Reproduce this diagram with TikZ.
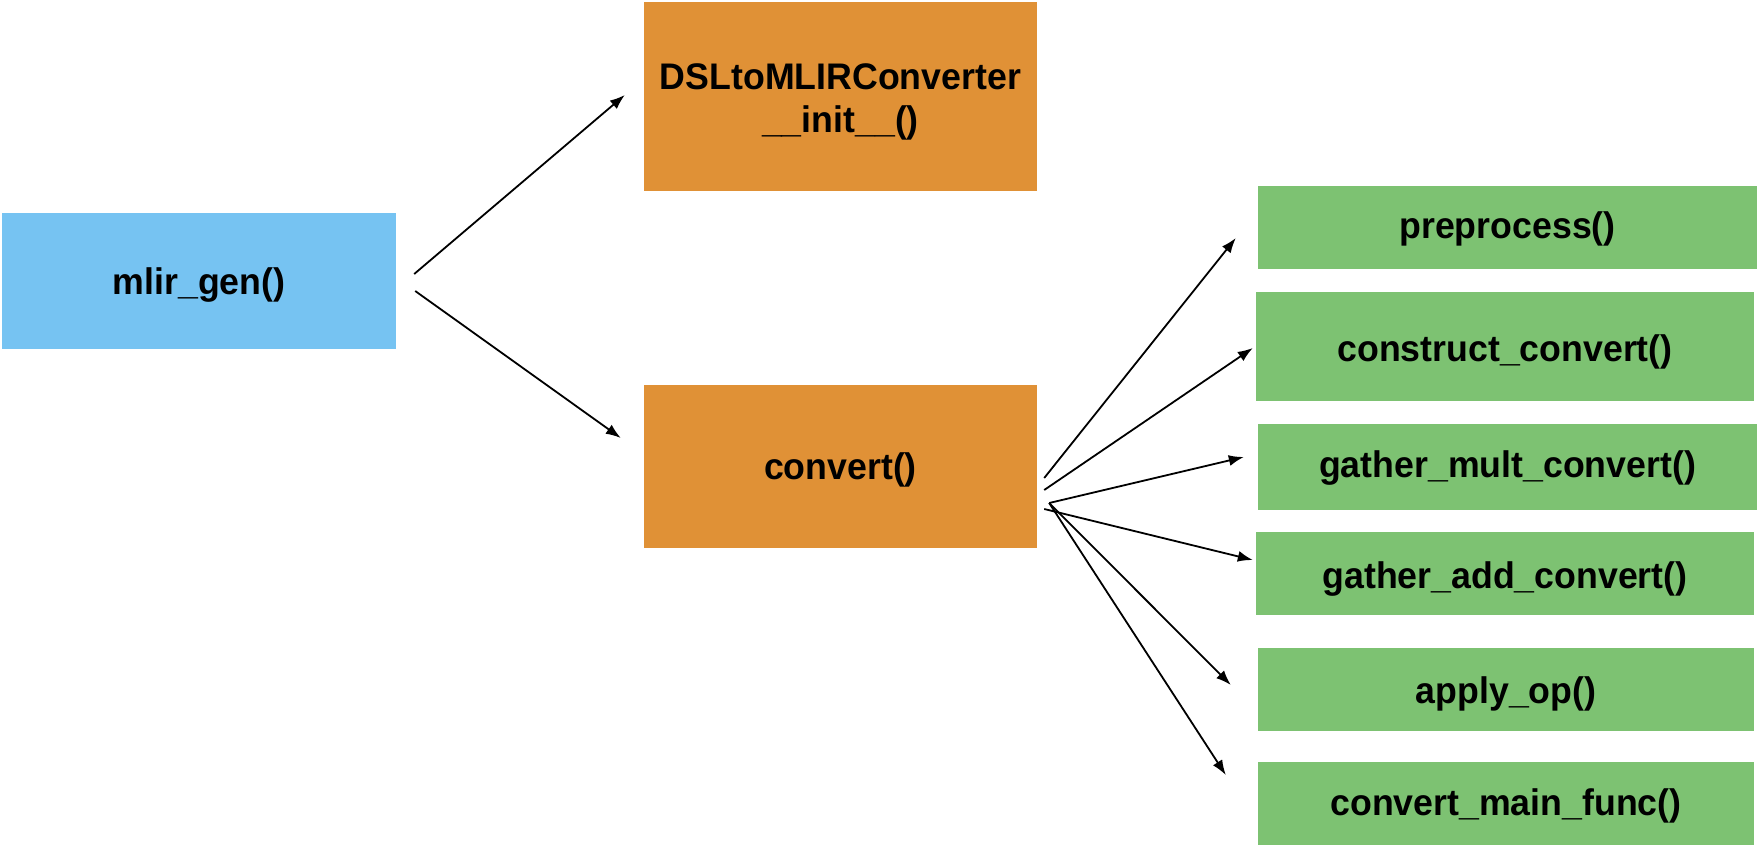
\documentclass[tikz,border=0pt]{standalone}
\usepackage{fontspec}
\setmainfont[FakeStretch=0.965]{Liberation Sans}
\usetikzlibrary{arrows.meta}
\definecolor{cblue}{HTML}{76C3F2}
\definecolor{corange}{HTML}{E09136}
\definecolor{cgreen}{HTML}{7DC272}
\tikzset{
  fbox/.style={rectangle,draw=none,inner sep=0pt,align=center,
    font=\fontsize{37}{43}\selectfont\bfseries},
  bl/.style 2 args={text height=#1pt,text depth=#2pt},
  bluebox/.style={fbox,fill=cblue},
  orangebox/.style={fbox,fill=corange,minimum width=393pt},
  greenbox/.style={fbox,fill=cgreen},
  conn/.style={line width=1.8pt,-{Latex[length=15pt,width=11pt]}}
}
\begin{document}
\begin{tikzpicture}[x=1pt,y=-1pt]
\useasboundingbox[fill=white] (0,0) rectangle (1760,848);
\node[bluebox,bl={30}{3},minimum width=394pt,minimum height=136pt] (mlir) at (199,281) {mlir\_gen()};
\node[orangebox,bl={75}{4},minimum height=189pt] (dsl) at (840.5,96.5) {DSLtoMLIRConverter\\\_\_init\_\_()};
\node[orangebox,bl={30}{4},minimum height=163pt] (conv) at (840.5,466.5) {convert()};
\node[greenbox,bl={25}{4},minimum width=499pt,minimum height=83pt] (pre) at (1507.5,227.5) {preprocess()};
\node[greenbox,bl={31}{2},minimum width=498pt,minimum height=109pt] (cons) at (1505,346.5) {construct\_convert()};
\node[greenbox,bl={25}{4},minimum width=499pt,minimum height=86pt] (mult) at (1507.5,467) {gather\_mult\_convert()};
\node[greenbox,bl={31}{2},minimum width=498pt,minimum height=83pt] (add) at (1505,573.5) {gather\_add\_convert()};
\node[greenbox,bl={30}{3},minimum width=496pt,minimum height=83pt] (apply) at (1506,689.5) {apply\_op()};
\node[greenbox,bl={27}{4},minimum width=496pt,minimum height=83pt] (mainf) at (1506,803.5) {convert\_main\_func()};
% connector ends
\coordinate (m1) at ([shift={(18,-7)}]mlir.east);
\coordinate (m2) at ([shift={(19,10)}]mlir.east);
\coordinate (d1) at ([shift={(-19,-1.5)}]dsl.west);
\coordinate (c1) at ([shift={(-23,-28.5)}]conv.west);
\coordinate (s3) at ([shift={(7,11.5)}]conv.east);
\coordinate (s4) at ([shift={(7,23.5)}]conv.east);
\coordinate (s5) at ([shift={(12,36.5)}]conv.east);
\coordinate (s6) at ([shift={(7,42.5)}]conv.east);
\coordinate (e3) at ([shift={(-22,10.5)}]pre.west);
\coordinate (e4) at ([shift={(-3,1.5)}]cons.west);
\coordinate (e5) at ([shift={(-14,-10)}]mult.west);
\coordinate (e6) at ([shift={(-3,-13.5)}]add.west);
\coordinate (e7) at ([shift={(-27,-4.5)}]apply.west);
\coordinate (e8) at ([shift={(-32,-28.5)}]mainf.west);
\draw[conn] (m1) -- (d1);
\draw[conn] (m2) -- (c1);
\draw[conn] (s3) -- (e3);
\draw[conn] (s4) -- (e4);
\draw[conn] (s5) -- (e5);
\draw[conn] (s6) -- (e6);
\draw[conn] (s5) -- (e7);
\draw[conn] (s5) -- (e8);
\end{tikzpicture}
\end{document}
